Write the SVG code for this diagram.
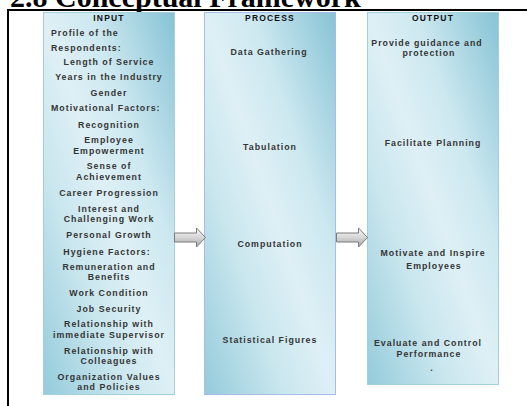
<svg xmlns="http://www.w3.org/2000/svg" width="527" height="406" viewBox="0 0 527 406">
  <defs>
    <linearGradient id="panelFill" x1="0" y1="1" x2="1" y2="0">
      <stop offset="0" stop-color="#94cbdb"/>
      <stop offset="0.3" stop-color="#c9e6ee"/>
      <stop offset="0.5" stop-color="#def0f5"/>
      <stop offset="0.68" stop-color="#cde8f0"/>
      <stop offset="1" stop-color="#86c3d5"/>
    </linearGradient>
    <linearGradient id="arrowFill" x1="0" y1="0" x2="0" y2="1">
      <stop offset="0" stop-color="#fafafa"/>
      <stop offset="0.5" stop-color="#d6d6d6"/>
      <stop offset="1" stop-color="#a8a8a8"/>
    </linearGradient>
    <path id="blockArrow" d="M0,5 H22 V0 L31,9.5 L22,19 V14 H0 Z"/>
  </defs>
  <style>
    .panel { fill: url(#panelFill); stroke: #a3cfdf; stroke-width: 1; }
    .panel.mid { stroke: #a6bde6; }
    .head { font-family: "Liberation Sans", Arial, sans-serif; font-size: 8.5px; font-weight: bold; letter-spacing: 1.2px; fill: #111; text-anchor: middle; }
    .item { font-family: "Liberation Sans", Arial, sans-serif; font-size: 8.8px; font-weight: bold; letter-spacing: 1px; fill: #353535; text-anchor: middle; }
    .left { text-anchor: start; }
    .title { font-family: "Liberation Serif", "Times New Roman", serif; font-size: 30px; font-weight: bold; fill: #000; }
    .frame { stroke: #000; stroke-width: 2; fill: none; }
    .arrow { fill: url(#arrowFill); stroke: #7a7a7a; stroke-width: 1; }
  </style>

  <rect width="527" height="406" fill="#ffffff"/>

  <!-- heading, running off the top edge of the page -->
  <text class="title" x="10" y="7">2.8 Conceptual Framework</text>

  <!-- frame lines -->
  <path class="frame" d="M7,10 H527 M8,10 V406"/>

  <g id="input">
    <rect class="panel" x="43.5" y="12.5" width="131" height="382"/>
    <text class="head" x="109" y="21">INPUT</text>
    <text class="item left" x="51" y="36">Profile of the</text>
    <text class="item left" x="51" y="51">Respondents:</text>
    <text class="item" x="109" y="65">Length of Service</text>
    <text class="item" x="109" y="80">Years in the Industry</text>
    <text class="item" x="109" y="96">Gender</text>
    <text class="item left" x="51" y="111">Motivational Factors:</text>
    <text class="item" x="109" y="128">Recognition</text>
    <text class="item" x="109" y="143">Employee</text>
    <text class="item" x="109" y="154">Empowerment</text>
    <text class="item" x="109" y="169">Sense of</text>
    <text class="item" x="109" y="180">Achievement</text>
    <text class="item" x="109" y="196">Career Progression</text>
    <text class="item" x="109" y="212">Interest and</text>
    <text class="item" x="109" y="222">Challenging Work</text>
    <text class="item" x="109" y="238">Personal Growth</text>
    <text class="item" x="107" y="255">Hygiene Factors:</text>
    <text class="item" x="109" y="270">Remuneration and</text>
    <text class="item" x="109" y="280">Benefits</text>
    <text class="item" x="109" y="296">Work Condition</text>
    <text class="item" x="109" y="312">Job Security</text>
    <text class="item" x="109" y="327">Relationship with</text>
    <text class="item" x="109" y="338">immediate Supervisor</text>
    <text class="item" x="109" y="354">Relationship with</text>
    <text class="item" x="109" y="364">Colleagues</text>
    <text class="item" x="109" y="380">Organization Values</text>
    <text class="item" x="109" y="390">and Policies</text>
  </g>

  <g id="process">
    <rect class="panel mid" x="204.5" y="12.5" width="131" height="382"/>
    <text class="head" x="270" y="21">PROCESS</text>
    <text class="item" x="269" y="55">Data Gathering</text>
    <text class="item" x="270" y="150">Tabulation</text>
    <text class="item" x="270" y="247">Computation</text>
    <text class="item" x="270" y="343">Statistical Figures</text>
  </g>

  <g id="output">
    <rect class="panel" x="367.5" y="12.5" width="131" height="372"/>
    <text class="head" x="433" y="21">OUTPUT</text>
    <text class="item" x="427" y="46">Provide guidance and</text>
    <text class="item" x="429" y="56">protection</text>
    <text class="item" x="433" y="146">Facilitate Planning</text>
    <text class="item" x="433" y="256">Motivate and Inspire</text>
    <text class="item" x="434" y="269">Employees</text>
    <text class="item" x="428" y="346">Evaluate and Control</text>
    <text class="item" x="429" y="357">Performance</text>
    <text class="item" x="432" y="371">.</text>
  </g>

  <g id="connectors">
    <use href="#blockArrow" class="arrow" transform="translate(174.5,228)"/>
    <use href="#blockArrow" class="arrow" transform="translate(336.5,228)"/>
  </g>
</svg>
